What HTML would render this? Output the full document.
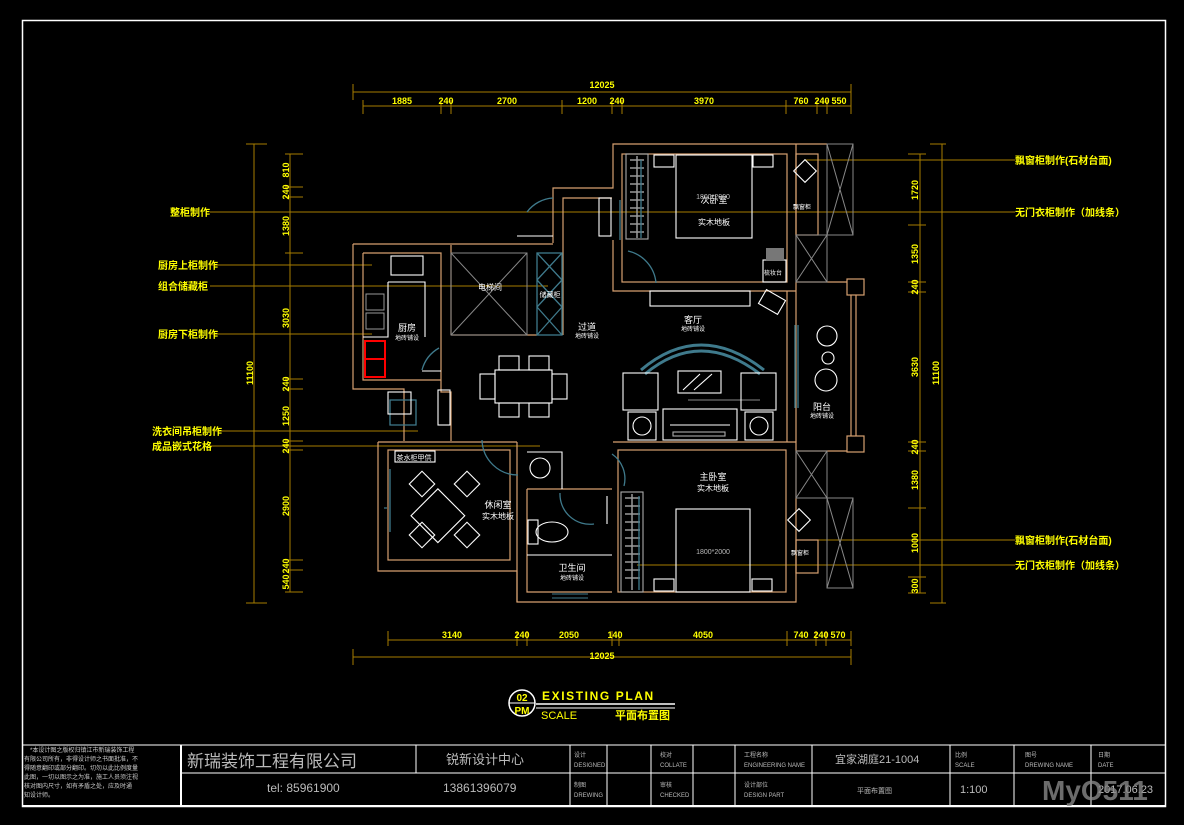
<!DOCTYPE html>
<html><head><meta charset="utf-8"><style>
html,body{margin:0;padding:0;background:#000;}
svg{display:block;}
text{font-family:"Liberation Sans","Noto Sans CJK SC",sans-serif;}
</style></head><body>
<svg width="1184" height="825" viewBox="0 0 1184 825" xmlns="http://www.w3.org/2000/svg">
<rect width="1184" height="825" fill="#000"/>
<rect x="22.5" y="20.5" width="1143" height="786" fill="none" stroke="#fff" stroke-width="1.5"/>
<g stroke="#a67c00" stroke-width="1" fill="none">
<line x1="353" y1="92" x2="851" y2="92"/><line x1="353" y1="84" x2="353" y2="100"/><line x1="851" y1="84" x2="851" y2="100"/>
<line x1="363" y1="106" x2="851" y2="106"/>
<g>
<line x1="363" y1="100" x2="363" y2="114"/><line x1="441" y1="100" x2="441" y2="114"/><line x1="451" y1="100" x2="451" y2="114"/><line x1="562" y1="100" x2="562" y2="114"/><line x1="612" y1="100" x2="612" y2="114"/><line x1="622" y1="100" x2="622" y2="114"/><line x1="786" y1="100" x2="786" y2="114"/><line x1="817" y1="100" x2="817" y2="114"/><line x1="827" y1="100" x2="827" y2="114"/><line x1="851" y1="100" x2="851" y2="114"/>
</g>
<line x1="388" y1="640" x2="851" y2="640"/>
<line x1="388" y1="631" x2="388" y2="646"/><line x1="517" y1="631" x2="517" y2="646"/><line x1="527" y1="631" x2="527" y2="646"/><line x1="612" y1="631" x2="612" y2="646"/><line x1="619" y1="631" x2="619" y2="646"/><line x1="787" y1="631" x2="787" y2="646"/><line x1="816" y1="631" x2="816" y2="646"/><line x1="826" y1="631" x2="826" y2="646"/><line x1="851" y1="631" x2="851" y2="646"/>
<line x1="353" y1="657" x2="851" y2="657"/><line x1="353" y1="649" x2="353" y2="665"/><line x1="851" y1="649" x2="851" y2="665"/>
<line x1="254" y1="144" x2="254" y2="603"/><line x1="246" y1="144" x2="267" y2="144"/><line x1="246" y1="603" x2="267" y2="603"/>
<line x1="290" y1="154" x2="290" y2="592"/>
<g>
<line x1="285" y1="154" x2="303" y2="154"/><line x1="285" y1="187" x2="303" y2="187"/><line x1="285" y1="197" x2="303" y2="197"/><line x1="285" y1="253" x2="303" y2="253"/><line x1="285" y1="379" x2="303" y2="379"/><line x1="285" y1="389" x2="303" y2="389"/><line x1="285" y1="441" x2="303" y2="441"/><line x1="285" y1="450" x2="303" y2="450"/><line x1="285" y1="560" x2="303" y2="560"/><line x1="285" y1="570" x2="303" y2="570"/><line x1="285" y1="592" x2="303" y2="592"/>
</g>
<line x1="942" y1="144" x2="942" y2="603"/><line x1="930" y1="144" x2="946" y2="144"/><line x1="930" y1="603" x2="946" y2="603"/>
<line x1="920" y1="154" x2="920" y2="593"/>
<g>
<line x1="908" y1="154" x2="926" y2="154"/><line x1="908" y1="225" x2="926" y2="225"/><line x1="908" y1="282" x2="926" y2="282"/><line x1="908" y1="292" x2="926" y2="292"/><line x1="908" y1="442" x2="926" y2="442"/><line x1="908" y1="451" x2="926" y2="451"/><line x1="908" y1="508" x2="926" y2="508"/><line x1="908" y1="577" x2="926" y2="577"/><line x1="908" y1="593" x2="926" y2="593"/>
</g>
<line x1="210" y1="212" x2="645" y2="212"/>
<line x1="210" y1="265" x2="372" y2="265"/>
<line x1="210" y1="286" x2="548" y2="286"/>
<line x1="210" y1="334" x2="372" y2="334"/>
<line x1="215" y1="431" x2="418" y2="431"/>
<line x1="210" y1="446" x2="540" y2="446"/>
<line x1="804" y1="160" x2="1015" y2="160"/>
<line x1="642" y1="212" x2="1015" y2="212"/>
<line x1="804" y1="540" x2="1015" y2="540"/>
<line x1="637" y1="565" x2="1015" y2="565"/>
</g>
<g fill="#ffff00" font-size="9" text-anchor="middle" font-weight="bold">
<text x="602" y="88">12025</text>
<text x="402" y="104">1885</text><text x="446" y="104">240</text><text x="507" y="104">2700</text><text x="587" y="104">1200</text><text x="617" y="104">240</text><text x="704" y="104">3970</text><text x="801" y="104">760</text><text x="822" y="104">240</text><text x="839" y="104">550</text>
<text x="452" y="638">3140</text><text x="522" y="638">240</text><text x="569" y="638">2050</text><text x="615" y="638">140</text><text x="703" y="638">4050</text><text x="801" y="638">740</text><text x="821" y="638">240</text><text x="838" y="638">570</text>
<text x="602" y="659">12025</text>
</g>
<g fill="#ffff00" font-size="9" text-anchor="middle" font-weight="bold">
<text transform="translate(253,373) rotate(-90)">11100</text>
<text transform="translate(289,170) rotate(-90)">810</text>
<text transform="translate(289,192) rotate(-90)">240</text>
<text transform="translate(289,226) rotate(-90)">1380</text>
<text transform="translate(289,318) rotate(-90)">3030</text>
<text transform="translate(289,384) rotate(-90)">240</text>
<text transform="translate(289,416) rotate(-90)">1250</text>
<text transform="translate(289,446) rotate(-90)">240</text>
<text transform="translate(289,506) rotate(-90)">2900</text>
<text transform="translate(289,566) rotate(-90)">240</text>
<text transform="translate(289,582) rotate(-90)">540</text>
<text transform="translate(939,373) rotate(-90)">11100</text>
<text transform="translate(918,190) rotate(-90)">1720</text>
<text transform="translate(918,254) rotate(-90)">1350</text>
<text transform="translate(918,287) rotate(-90)">240</text>
<text transform="translate(918,367) rotate(-90)">3630</text>
<text transform="translate(918,447) rotate(-90)">240</text>
<text transform="translate(918,480) rotate(-90)">1380</text>
<text transform="translate(918,543) rotate(-90)">1000</text>
<text transform="translate(918,586) rotate(-90)">300</text>
</g>
<g fill="#ffff00" font-size="10" font-weight="bold">
<text x="170" y="216">整柜制作</text>
<text x="158" y="269">厨房上柜制作</text>
<text x="158" y="290">组合储藏柜</text>
<text x="158" y="338">厨房下柜制作</text>
<text x="152" y="435">洗衣间吊柜制作</text>
<text x="152" y="450">成品嵌式花格</text>
<text x="1015" y="164">飘窗柜制作(石材台面)</text>
<text x="1015" y="216">无门衣柜制作（加线条）</text>
<text x="1015" y="544">飘窗柜制作(石材台面)</text>
<text x="1015" y="569">无门衣柜制作（加线条）</text>
</g>
<g stroke="#d6a070" stroke-width="1.2" fill="none">
<path d="M553,243 V188 H613 V144 H827"/>
<path d="M563,243 V198 H612"/>
<rect x="622" y="154" width="165" height="128"/>
<path d="M613,240 V291 H796"/>
<path d="M796,144 V291"/>
<rect x="796" y="154" width="22" height="81"/>
<path d="M353,244 H553 M353,244 V389 H404 V441 M363,253 H441 V380 M363,253 V380 H441"/>
<path d="M451,335 H537 M451,335 V245 M563,243 V335"/>
<path d="M441,380 V392 H451 V441"/>
<path d="M378,442 V571 H517 V602 H796 V442 H613 M378,442 H517"/>
<rect x="388" y="450" width="122" height="110"/>
<path d="M517,442 V602 M527,489 V592 H612 M527,489 H612"/>
<rect x="618" y="450" width="168" height="142"/>
<path d="M787,291 V442 M796,291 V442"/>
<rect x="796" y="540" width="22" height="33"/>
<path d="M796,282 H847 M796,451 H847 M851,295 V436 M856,295 V436"/>
<rect x="847" y="279" width="17" height="16"/><rect x="847" y="436" width="17" height="16"/>
</g>
<g stroke="#888" stroke-width="1" fill="none">
<rect x="827" y="144" width="26" height="91"/><path d="M827,144 L853,235 M853,144 L827,235"/>
<rect x="796" y="235" width="31" height="47"/><path d="M796,235 L827,282 M827,235 L796,282"/>
<rect x="796" y="451" width="31" height="47"/><path d="M796,451 L827,498 M827,451 L796,498"/>
<rect x="827" y="498" width="26" height="90"/><path d="M827,498 L853,588 M853,498 L827,588"/>
<rect x="451" y="253" width="76" height="82"/><path d="M451,253 L527,335 M527,253 L451,335"/>
<path d="M688,400 L760,400"/>
<!-- wardrobe hangers -->
<path d="M630,160 H644 M630,168 H644 M630,176 H644 M630,184 H644 M630,192 H644 M630,200 H644 M630,208 H644 M630,216 H644 M630,224 H644 M630,232 H644 M637,156 V238" stroke="#999" stroke-width="1.5"/>
<path d="M625,498 H640 M625,506 H640 M625,514 H640 M625,522 H640 M625,530 H640 M625,538 H640 M625,546 H640 M625,554 H640 M625,562 H640 M625,570 H640 M625,578 H640 M632,494 V590" stroke="#999" stroke-width="1.5"/>
<rect x="366" y="294" width="18" height="16" stroke="#999"/><rect x="366" y="313" width="18" height="16" stroke="#999"/>
</g>
<g stroke="#3f7a8c" stroke-width="1.3" fill="none">
<rect x="537" y="253" width="25" height="82"/>
<path d="M537,253 L562,280 M562,253 L537,280 M537,280 L562,307 M562,280 L537,307 M537,307 L562,335 M562,307 L537,335"/>
<path d="M620,200 L620,240 M795,325 V408 M798,325 V408"/>
<path d="M390,469 V532 M384,508 H387"/>
<path d="M390,400 H416 V425 H390 Z"/>
<path d="M641,370 Q700,320 764,370 M645,374 Q700,328 760,374" stroke-width="3"/>
<path d="M628,251 A36,36 0 0 1 656,283 M422,370 A36,36 0 0 1 439,348 M612,454 A30,30 0 0 1 624,486 M482,440 A36,36 0 0 0 518,475 M560,493 A30,30 0 0 0 594,524"/>
<path d="M527,212 A35,35 0 0 1 553,198"/>
<path d="M641,160 V238 M639,496 V590"/>
</g>
<g stroke="#fff" stroke-width="1.1" fill="none">
<path d="M517,236 H553"/>
<rect x="676" y="155" width="76" height="83"/>
<rect x="654" y="155" width="20" height="12"/><rect x="753" y="155" width="20" height="12"/>
<rect x="626" y="154" width="22" height="85" stroke="#aaa"/>
<rect x="599" y="198" width="12" height="38"/>
<rect x="763" y="260" width="23" height="22"/>
<rect x="650" y="291" width="100" height="15"/>
<rect x="761" y="294" width="22" height="16" transform="rotate(30 772 302)"/>
<rect x="391" y="256" width="32" height="19"/>
<path d="M388,282 H425 V337 M388,282 V337 H363"/>
<rect x="495" y="370" width="57" height="33"/>
<rect x="480" y="374" width="15" height="25"/><rect x="552" y="374" width="15" height="25"/>
<rect x="499" y="356" width="20" height="14"/><rect x="529" y="356" width="20" height="14"/>
<rect x="499" y="403" width="20" height="14"/><rect x="529" y="403" width="20" height="14"/>
<rect x="388" y="392" width="23" height="22"/>
<rect x="438" y="390" width="12" height="35"/>
<path d="M422,371 H441"/>
<rect x="678" y="371" width="43" height="22"/>
<path d="M683,390 L700,374 M694,390 L712,374"/>
<rect x="623" y="373" width="35" height="37"/><rect x="741" y="373" width="35" height="37"/>
<rect x="628" y="412" width="28" height="28"/><rect x="745" y="412" width="28" height="28"/>
<circle cx="642" cy="426" r="9"/><circle cx="759" cy="426" r="9"/>
<rect x="663" y="409" width="74" height="31"/>
<path d="M670,425 H730"/>
<circle cx="827" cy="336" r="10"/><circle cx="828" cy="358" r="6"/><circle cx="826" cy="380" r="11"/>
<rect x="395" y="451" width="40" height="11"/>
<rect x="420" y="498" width="38" height="38" transform="rotate(45 440 515)"/>
<rect x="413" y="475" width="18" height="18" transform="rotate(45 422 484)"/>
<rect x="458" y="475" width="18" height="18" transform="rotate(45 467 484)"/>
<rect x="413" y="526" width="18" height="18" transform="rotate(45 422 535)"/>
<rect x="458" y="526" width="18" height="18" transform="rotate(45 467 535)"/>
<ellipse cx="540" cy="468" rx="10" ry="10"/>
<path d="M527,452 H562 V489"/>
<rect x="528" y="520" width="10" height="24"/><ellipse cx="552" cy="532" rx="16" ry="10"/>
<path d="M527,555 H612"/>
<path d="M607,496 V524"/>
<rect x="676" y="509" width="74" height="83"/>
<rect x="654" y="579" width="20" height="12"/><rect x="752" y="579" width="20" height="12"/>
<rect x="621" y="492" width="22" height="100" stroke="#aaa"/>
<rect x="673" y="432" width="52" height="4" stroke="#aaa"/>
<rect x="791" y="512" width="16" height="16" transform="rotate(45 799 520)"/>
<rect x="797" y="163" width="16" height="16" transform="rotate(45 805 171)"/>
<rect x="766" y="248" width="18" height="13" fill="#777" stroke="none"/>
<path d="M552,594 H588 M552,598 H588" stroke="#3f7a8c"/>
</g>
<g stroke="#ff0000" stroke-width="2" fill="none">
<rect x="365" y="341" width="20" height="36"/><line x1="365" y1="359" x2="385" y2="359"/>
</g>
<g fill="#fff" font-size="9" text-anchor="middle">
<text x="714" y="203">次卧室</text><text x="714" y="225" font-size="8">实木地板</text>
<text x="713" y="199" font-size="7" fill="#bbb">1800*2000</text>
<text x="490" y="290" font-size="8">电梯间</text>
<text x="550" y="297" font-size="7">储藏柜</text>
<text x="407" y="331">厨房</text><text x="407" y="340" font-size="6">地砖铺设</text>
<text x="587" y="330">过道</text><text x="587" y="338" font-size="6">地砖铺设</text>
<text x="693" y="323">客厅</text><text x="693" y="331" font-size="6">地砖铺设</text>
<text x="822" y="410">阳台</text><text x="822" y="418" font-size="6">地砖铺设</text>
<text x="713" y="480">主卧室</text><text x="713" y="491" font-size="8">实木地板</text>
<text x="713" y="554" font-size="7" fill="#bbb">1800*2000</text>
<text x="498" y="508">休闲室</text><text x="498" y="519" font-size="8">实木地板</text>
<text x="572" y="571">卫生间</text><text x="572" y="580" font-size="6">地砖铺设</text>
<text x="773" y="275" font-size="6">梳妆台</text>
<text x="802" y="209" font-size="6">飘窗柜</text>
<text x="800" y="555" font-size="6">飘窗柜</text>
<text x="414" y="460" font-size="7">茶水柜甲供</text>
</g>
<g>
<circle cx="522" cy="703" r="13" fill="none" stroke="#fff" stroke-width="1.5"/>
<line x1="509" y1="703" x2="535" y2="703" stroke="#fff"/>
<text x="522" y="701" fill="#ffff00" font-size="10" text-anchor="middle" font-weight="bold">02</text>
<text x="522" y="714" fill="#ffff00" font-size="10" text-anchor="middle" font-weight="bold">PM</text>
<text x="542" y="700" fill="#ffff00" font-size="12" font-weight="bold" letter-spacing="1.6">EXISTING PLAN</text>
<line x1="536" y1="704" x2="675" y2="704" stroke="#fff" stroke-width="1.5"/>
<line x1="536" y1="708" x2="675" y2="708" stroke="#fff" stroke-width="1"/>
<text x="541" y="719" fill="#ffff00" font-size="11">SCALE</text>
<text x="615" y="719" fill="#ffff00" font-size="11" font-weight="bold">平面布置图</text>
</g>
<g stroke="#fff" fill="none" stroke-width="1">
<line x1="22" y1="745" x2="1165" y2="745"/>
<line x1="22" y1="806" x2="1165" y2="806" stroke-width="2"/>
<line x1="181" y1="773" x2="1165" y2="773"/>
<line x1="181" y1="745" x2="181" y2="806" stroke-width="2"/>
<line x1="416" y1="745" x2="416" y2="773"/>
<line x1="570" y1="745" x2="570" y2="806"/><line x1="607" y1="745" x2="607" y2="806"/>
<line x1="651" y1="745" x2="651" y2="806"/><line x1="693" y1="745" x2="693" y2="806"/>
<line x1="735" y1="745" x2="735" y2="806"/><line x1="812" y1="745" x2="812" y2="806"/>
<line x1="950" y1="745" x2="950" y2="806"/><line x1="1014" y1="745" x2="1014" y2="806"/>
<line x1="1091" y1="745" x2="1091" y2="806"/>
</g>
<g fill="#ccc" font-size="6">
<text x="30" y="752">*本设计图之版权归镇江市新瑞装饰工程</text>
<text x="24" y="761">有限公司所有，非得设计师之书面批准，不</text>
<text x="24" y="770">得随意翻印或部分翻印。切勿以此比例度量</text>
<text x="24" y="779">此图，一切以图示之为准，施工人员须注视</text>
<text x="24" y="788">核对图内尺寸，如有矛盾之处，应及时通</text>
<text x="24" y="797">知设计师。</text>
</g>
<g fill="#bbb">
<text x="187" y="767" font-size="17">新瑞装饰工程有限公司</text>
<text x="446" y="764" font-size="13">锐新设计中心</text>
<text x="267" y="792" font-size="12">tel:  85961900</text>
<text x="443" y="792" font-size="12">13861396079</text>
<text x="835" y="763" font-size="11">宜家湖庭21-1004</text>
<text x="857" y="793" font-size="7">平面布置图</text>
<text x="960" y="793" font-size="11">1:100</text>
<text x="1098" y="793" font-size="11">2017.06.23</text>
<g font-size="6">
<text x="574" y="757">设计</text><text x="574" y="767">DESIGNED</text>
<text x="660" y="757">校对</text><text x="660" y="767">COLLATE</text>
<text x="744" y="757">工程名称</text><text x="744" y="767">ENGINEERING NAME</text>
<text x="955" y="757">比例</text><text x="955" y="767">SCALE</text>
<text x="1025" y="757">图号</text><text x="1025" y="767">DREWING NAME</text>
<text x="1098" y="757">日期</text><text x="1098" y="767">DATE</text>
<text x="574" y="787">制图</text><text x="574" y="797">DREWING</text>
<text x="660" y="787">审核</text><text x="660" y="797">CHECKED</text>
<text x="744" y="787">设计部位</text><text x="744" y="797">DESIGN PART</text>
</g>
</g>
<text x="1042" y="800" fill="#888" font-size="28" font-weight="bold" opacity="0.8">MyO511</text>
</svg>
</body></html>
